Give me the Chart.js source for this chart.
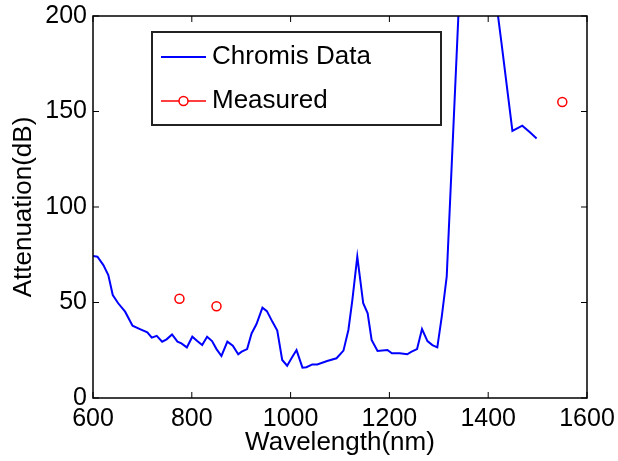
<!DOCTYPE html>
<html>
<head>
<meta charset="utf-8">
<script src="https://cdn.jsdelivr.net/npm/chart.js@4/dist/chart.umd.min.js"></script>
<style>
  html, body { margin: 0; padding: 0; background: #fff; }
  #wrap { width: 618px; height: 461px; position: relative; }
</style>
</head>
<body>
<div id="wrap"><canvas id="chart"></canvas></div>
<script>
// values
const wavelengths = [600, 609, 621, 631, 640, 651, 665, 680, 695, 710, 719, 729, 740, 749, 760, 771, 779, 790,
  801, 811, 821, 831, 841, 850, 860, 872, 883, 894, 901, 912, 921, 931, 943, 952, 963, 973, 983, 993,
  1003, 1012, 1024, 1032, 1044, 1054, 1074, 1093, 1107, 1117, 1125, 1135, 1147, 1156, 1164, 1176, 1196,
  1205, 1221, 1236, 1245, 1256, 1266, 1277, 1287, 1297, 1306, 1316, 1350, 1380, 1410, 1427, 1449, 1469,
  1485, 1498];
const attenuation = [74.3, 74, 69.6, 64.4, 53.9, 49.6, 45.2, 37.9, 36.1, 34.4, 31.6, 32.5, 29.5, 30.7, 33.3,
  29.5, 28.6, 26.5, 32.1, 29.8, 27.7, 32.1, 29.8, 25.6, 22, 29.5, 27.4, 22.9, 24.3, 25.6, 33.8, 38.7, 47.3,
  45.5, 40, 35.3, 19.9, 16.9, 21.3, 25.1, 15.9, 16.1, 17.6, 17.6, 19.4, 20.8, 24.8, 35.6, 51.3, 74, 49.6,
  44.3, 30.4, 24.6, 25.1, 23.4, 23.4, 22.9, 24.3, 25.6, 36.1, 29.8, 27.7, 26.5, 42.6, 63.5, 260, 280, 220,
  185.7, 139.8, 142.6, 139, 135.9];
const measuredX = [775, 850, 1550];
const measuredY = [52, 48, 155];
const seriesNames = ["Chromis Data", "Measured"];
const xTicks = [600, 800, 1000, 1200, 1400, 1600];
const yTicks = [0, 50, 100, 150, 200];

const FONT = "'Liberation Sans', Arial, sans-serif";
Chart.defaults.color = "#000";
Chart.defaults.font.family = FONT;

// box, inward ticks and the legend, MATLAB style
const matlabAxes = {
  id: "matlabAxes",
  afterDraw(chart) {
    const { ctx, chartArea: a, scales } = chart;
    ctx.save();
    ctx.strokeStyle = "#000";
    ctx.lineWidth = 1.5;
    ctx.strokeRect(a.left, a.top, a.right - a.left, a.bottom - a.top);

    ctx.lineWidth = 1;
    ctx.beginPath();
    xTicks.forEach((v) => {
      const px = scales.x.getPixelForValue(v);
      ctx.moveTo(px, a.bottom); ctx.lineTo(px, a.bottom - 6);
      ctx.moveTo(px, a.top); ctx.lineTo(px, a.top + 6);
    });
    yTicks.forEach((v) => {
      const py = scales.y.getPixelForValue(v);
      ctx.moveTo(a.left, py); ctx.lineTo(a.left + 6, py);
      ctx.moveTo(a.right, py); ctx.lineTo(a.right - 6, py);
    });
    ctx.stroke();

    // legend
    const lx = a.left + 59, ly = a.top + 16, lw = 289, lh = 93;
    ctx.fillStyle = "#fff";
    ctx.fillRect(lx, ly, lw, lh);
    ctx.lineWidth = 2;
    ctx.strokeStyle = "#222";
    ctx.strokeRect(lx, ly, lw, lh);

    const rows = [ly + 25, ly + 69];
    ctx.lineWidth = 2;
    ctx.strokeStyle = "#0000ff";
    ctx.beginPath();
    ctx.moveTo(lx + 9, rows[0]); ctx.lineTo(lx + 54, rows[0]);
    ctx.stroke();

    ctx.strokeStyle = "#ff0000";
    ctx.lineWidth = 1.5;
    ctx.beginPath();
    ctx.moveTo(lx + 9, rows[1]); ctx.lineTo(lx + 27, rows[1]);
    ctx.moveTo(lx + 36, rows[1]); ctx.lineTo(lx + 54, rows[1]);
    ctx.stroke();
    ctx.beginPath();
    ctx.arc(lx + 31.5, rows[1], 4.5, 0, Math.PI * 2);
    ctx.stroke();

    ctx.fillStyle = "#000";
    ctx.font = "26px " + FONT;
    ctx.textBaseline = "middle";
    ctx.textAlign = "left";
    ctx.fillText(seriesNames[0], lx + 60, rows[0]);
    ctx.fillText(seriesNames[1], lx + 60, rows[1]);
    ctx.restore();
  },
};

new Chart(document.getElementById("chart"), {
  type: "scatter",
  data: {
    datasets: [
      {
        label: seriesNames[0],
        data: wavelengths.map((x, i) => ({ x, y: attenuation[i] })),
        showLine: true,
        borderColor: "#0000ff",
        borderWidth: 2,
        pointRadius: 0,
        tension: 0,
        clip: 0,
      },
      {
        label: seriesNames[1],
        data: measuredX.map((x, i) => ({ x, y: measuredY[i] })),
        showLine: false,
        pointStyle: "circle",
        pointRadius: 4.5,
        borderColor: "#ff0000",
        backgroundColor: "#fff",
        borderWidth: 1.5,
      },
    ],
  },
  options: {
    responsive: true,
    maintainAspectRatio: false,
    animation: false,
    layout: { padding: { top: 16, right: 31, left: 0, bottom: 0 } },
    plugins: { legend: { display: false }, tooltip: { enabled: false } },
    scales: {
      x: {
        type: "linear",
        min: 600,
        max: 1600,
        afterBuildTicks: (s) => { s.ticks = xTicks.map((v) => ({ value: v })); },
        afterFit: (s) => { s.height = 63; s.paddingLeft = 0; s.paddingRight = 0; },
        grid: { display: false, drawTicks: false },
        border: { display: false },
        ticks: { font: { size: 25 }, padding: 6, maxRotation: 0, callback: (v) => String(v) },
        title: { display: true, text: "Wavelength(nm)", font: { size: 26 }, padding: { top: 0, bottom: 3 } },
      },
      y: {
        type: "linear",
        min: 0,
        max: 200,
        afterBuildTicks: (s) => { s.ticks = yTicks.map((v) => ({ value: v })); },
        afterFit: (s) => { s.width = 93; s.paddingTop = 0; s.paddingBottom = 0; },
        grid: { display: false, drawTicks: false },
        border: { display: false },
        ticks: { font: { size: 25 }, padding: 6, callback: (v) => String(v) },
        title: { display: true, text: "Attenuation(dB)", font: { size: 26 }, padding: { top: 8, bottom: 0 } },
      },
    },
  },
  plugins: [matlabAxes],
});
</script>
</body>
</html>
